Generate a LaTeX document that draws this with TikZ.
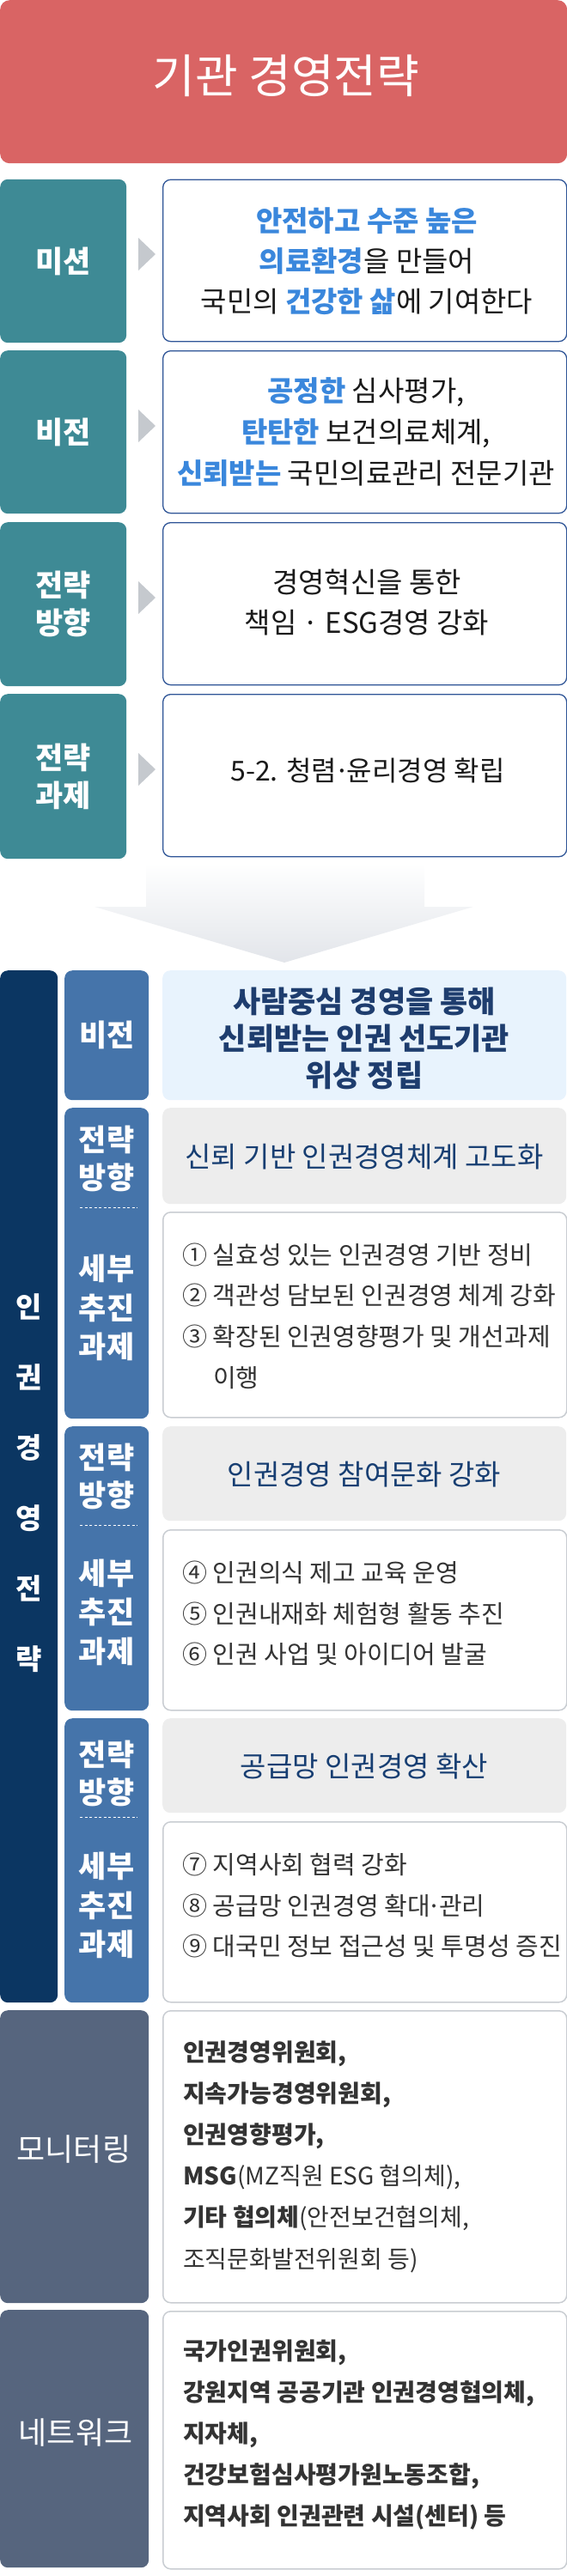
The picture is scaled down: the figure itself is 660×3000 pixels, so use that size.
\documentclass[tikz,border=0pt]{standalone}
\usepackage{fontspec}
\setmainfont{Noto Sans CJK KR}
\definecolor{cred}{HTML}{D96464}
\definecolor{cteal}{HTML}{3E8A95}
\definecolor{cborder}{HTML}{2F5597}
\definecolor{chl}{HTML}{3A87DC}
\definecolor{ctri}{HTML}{C5C9CE}
\definecolor{cnavy}{HTML}{0B3662}
\definecolor{clab}{HTML}{4574AA}
\definecolor{clight}{HTML}{E8F3FD}
\definecolor{cgfill}{HTML}{EDEDED}
\definecolor{cgborder}{HTML}{C9CDD2}
\definecolor{cslate}{HTML}{56657E}
\definecolor{cvis}{HTML}{1E3D6E}
\definecolor{cdir}{HTML}{173E72}
\definecolor{ctxt}{HTML}{1A1A1A}
\definecolor{ctask}{HTML}{333333}
\definecolor{carrow}{HTML}{E2E5EA}
\newcommand{\fsz}[2]{\fontsize{#1}{#2}\selectfont}
\newcommand{\hlt}[1]{{\bfseries\color{chl}#1}}
\newcommand{\mdot}{\kern-0.1em·\kern-0.1em}
\newcommand{\boxat}[5]{\node[#1, anchor=north west, inner sep=0pt, minimum width=#4pt, minimum height=#5pt] (#2) at (#3) {};}
\tikzset{
  redbox/.style={fill=cred, rounded corners=11pt},
  tealbox/.style={fill=cteal, rounded corners=9pt},
  bluebox/.style={draw=cborder, line width=1.3pt, fill=white, rounded corners=9pt},
  navybox/.style={fill=cnavy, rounded corners=9pt},
  labbox/.style={fill=clab, rounded corners=9pt},
  lightbox/.style={fill=clight, rounded corners=9pt},
  graybox/.style={fill=cgfill, rounded corners=9pt},
  taskbox/.style={draw=cgborder, line width=1.5pt, fill=white, rounded corners=9pt},
  slatebox/.style={fill=cslate, rounded corners=9pt},
  labtxt/.style={text=white, font=\bfseries\fsz{35}{44}, align=center, inner sep=0pt},
  sidetxt/.style={text=white, font=\fsz{36}{40}, align=center, inner sep=0pt},
  maintxt/.style={text=ctxt, font=\fsz{33}{47}, align=center, inner sep=0pt},
  vistxt/.style={text=cvis, font=\bfseries\fsz{35}{43}, align=center, inner sep=0pt},
  dirtxt/.style={text=cdir, font=\fsz{33}{38}, align=center, inner sep=0pt},
  tasktxt/.style={text=ctask, font=\fsz{29}{47.7}, align=left, inner sep=0pt, anchor=west},
  montxt/.style={text=ctask, font=\fsz{28}{48.2}, align=left, inner sep=0pt, anchor=west},
  vlet/.style={text=white, font=\bfseries\fsz{33}{36}, inner sep=0pt},
  sep/.style={white, line width=1pt, dash pattern=on 3pt off 2.5pt},
  tri/.style={fill=ctri}
}
\begin{document}
\begin{tikzpicture}[x=1pt,y=-1pt]
\useasboundingbox (0,0) rectangle (660,3000);
% title
\boxat{redbox}{title}{0,0}{660}{190}
\node[text=white, font=\fsz{54}{58}, inner sep=0pt] (titletxt) at (333,88) {기관 경영전략};
% mission
\boxat{tealbox}{mL}{0,208.6}{147}{190.4}
\node[labtxt] (mLt) at (mL.center) {미션};
\fill[tri] (161,277) -- (181,296) -- (161,315) -- cycle;
\boxat{bluebox}{mR}{189,208.6}{470}{188.4}
\node[maintxt] (mRt) at (427,304) {\hlt{안전하고 수준 높은}\\\hlt{의료환경}을 만들어\\국민의 \hlt{건강한 삶}에 기여한다};
% vision
\boxat{tealbox}{vL}{0,408}{147}{190}
\node[labtxt] (vLt) at (vL.center) {비전};
\fill[tri] (161,477) -- (181,496) -- (161,515) -- cycle;
\boxat{bluebox}{vR}{189,408}{470}{189}
\node[maintxt, font=\fsz{33}{48}] (vRt) at (426,503) {\hlt{공정한} 심사평가,\\\hlt{탄탄한} 보건의료체계,\\\hlt{신뢰받는} 국민의료관리 전문기관};
% strategy direction
\boxat{tealbox}{sL}{0,608}{147}{191}
\node[labtxt] (sLt) at (sL.center) {전략\\방향};
\fill[tri] (161,677) -- (181,696) -- (161,715) -- cycle;
\boxat{bluebox}{sR}{189,608}{470}{189}
\node[maintxt] (sRt) at (427,701.5) {경영혁신을 통한\\책임 · ESG경영 강화};
% strategy task
\boxat{tealbox}{tL}{0,808}{147}{192}
\node[labtxt] (tLt) at (tL.center) {전략\\과제};
\fill[tri] (161,877) -- (181,896) -- (161,915) -- cycle;
\boxat{bluebox}{tR}{189,808}{470}{189}
\node[maintxt, font=\fsz{32}{40}] (tRt) at (428,897) {5-2. 청렴\mdot 윤리경영 확립};
% big arrow
\shade[top color=white, bottom color=carrow] (170,1005) -- (494,1005) -- (494,1056) -- (551,1056) -- (331,1121) -- (110,1056) -- (170,1056) -- cycle;
% human rights section
\boxat{navybox}{nv}{0,1130}{67}{1202}
\node[vlet] (v1) at (34,1522) {인};
\node[vlet] (v2) at (34,1604) {권};
\node[vlet] (v3) at (34,1686) {경};
\node[vlet] (v4) at (34,1768) {영};
\node[vlet] (v5) at (34,1850) {전};
\node[vlet] (v6) at (34,1932) {략};
% vision
\boxat{labbox}{lv}{75,1130}{98}{151}
\node[labtxt] (lvt) at (lv.center) {비전};
\boxat{lightbox}{lvc}{189,1130}{470}{151}
\node[vistxt] (lvct) at (424,1209) {사람중심 경영을 통해\\신뢰받는 인권 선도기관\\위상 정립};
% block 1
\boxat{labbox}{b1}{75,1290}{98}{362}
\node[labtxt] (b1a) at (124,1349) {전략\\방향};
\draw[sep] (93,1406) -- (160,1406);
\node[labtxt, font=\bfseries\fsz{35}{45.5}] (b1b) at (124,1523) {세부\\추진\\과제};
\boxat{graybox}{g1}{189,1290}{470}{112}
\node[dirtxt] (g1t) at (424,1347) {신뢰 기반 인권경영체계 고도화};
\boxat{taskbox}{k1}{189,1411}{470}{239}
\node[tasktxt] (k1t) at (212,1532.5) {① 실효성 있는 인권경영 기반 정비\\② 객관성 담보된 인권경영 체계 강화\\③ 확장된 인권영향평가 및 개선과제\\\hspace*{36pt}이행};
% block 2
\boxat{labbox}{b2}{75,1661}{98}{331}
\node[labtxt] (b2a) at (124,1719.5) {전략\\방향};
\draw[sep] (93,1776) -- (160,1776);
\node[labtxt, font=\bfseries\fsz{35}{45.5}] (b2b) at (124,1877.5) {세부\\추진\\과제};
\boxat{graybox}{g2}{189,1661}{470}{110}
\node[dirtxt] (g2t) at (424,1717) {인권경영 참여문화 강화};
\boxat{taskbox}{k2}{189,1781}{470}{210}
\node[tasktxt] (k2t) at (212,1879) {④ 인권의식 제고 교육 운영\\⑤ 인권내재화 체험형 활동 추진\\⑥ 인권 사업 및 아이디어 발굴};
% block 3
\boxat{labbox}{b3}{75,2001}{98}{331}
\node[labtxt] (b3a) at (124,2065) {전략\\방향};
\draw[sep] (93,2116) -- (160,2116);
\node[labtxt, font=\bfseries\fsz{35}{45.5}] (b3b) at (124,2219) {세부\\추진\\과제};
\boxat{graybox}{g3}{189,2001}{470}{110}
\node[dirtxt] (g3t) at (424,2057) {공급망 인권경영 확산};
\boxat{taskbox}{k3}{189,2121}{470}{210}
\node[tasktxt] (k3t) at (212,2219) {⑦ 지역사회 협력 강화\\⑧ 공급망 인권경영 확대\mdot 관리\\⑨ 대국민 정보 접근성 및 투명성 증진};
% monitoring
\boxat{slatebox}{mo}{0,2341}{173}{341}
\node[sidetxt] (mot) at (86,2503) {모니터링};
\boxat{taskbox}{moc}{189,2341}{470}{340}
\node[montxt] (moct) at (213,2511.5) {\textbf{인권경영위원회,}\\\textbf{지속가능경영위원회,}\\\textbf{인권영향평가,}\\\textbf{MSG}(MZ직원 ESG 협의체),\\\textbf{기타 협의체}(안전보건협의체,\\조직문화발전위원회 등)};
% network
\boxat{slatebox}{nw}{0,2690}{173}{300}
\node[sidetxt] (nwt) at (88,2833) {네트워크};
\boxat{taskbox}{nwc}{189,2691}{470}{300}
\node[montxt, font=\bfseries\fsz{28}{48}] (nwct) at (213,2836) {국가인권위원회,\\강원지역 공공기관 인권경영협의체,\\지자체,\\건강보험심사평가원노동조합,\\지역사회 인권관련 시설(센터) 등};
\end{tikzpicture}
\end{document}
